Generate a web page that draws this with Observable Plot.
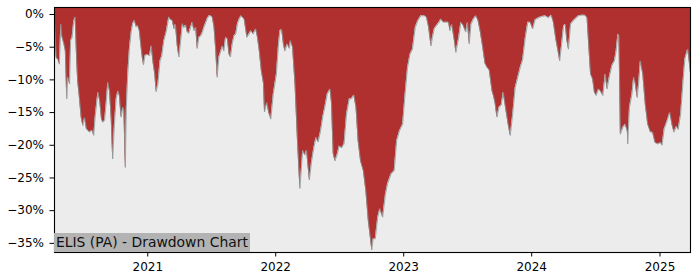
<!DOCTYPE html>
<html><head><meta charset="utf-8">
<script src="https://cdn.jsdelivr.net/npm/d3@7"></script>
<script src="https://cdn.jsdelivr.net/npm/@observablehq/plot@0.6"></script>
<style>
body{margin:0;background:#fff;}
#wrap{position:relative;width:700px;height:280px;overflow:hidden;}
#wrap svg text{font-family:"DejaVu Sans";}
#label{position:absolute;left:54px;top:233px;height:19px;width:196px;background:#b3b3b3;font-family:"DejaVu Sans";font-size:13.9px;line-height:19px;padding-left:2px;box-sizing:border-box;color:#111;white-space:nowrap;}
</style></head><body><div id="wrap"></div>
<script>
const title = "ELIS (PA) - Drawdown Chart";
const dates = [
"2020-04-10","2020-04-15","2020-04-20","2020-04-24","2020-04-28","2020-05-01","2020-05-07","2020-05-11","2020-05-15","2020-05-18",
"2020-05-23","2020-05-26","2020-05-30","2020-06-04","2020-06-08","2020-06-12","2020-06-15","2020-06-20","2020-06-25","2020-06-30",
"2020-07-05","2020-07-10","2020-07-14","2020-07-19","2020-07-26","2020-07-31","2020-08-04","2020-08-09","2020-08-12","2020-08-17",
"2020-08-22","2020-08-26","2020-08-31","2020-09-05","2020-09-09","2020-09-14","2020-09-19","2020-09-23","2020-09-28","2020-10-03",
"2020-10-08","2020-10-12","2020-10-17","2020-10-22","2020-10-25","2020-10-29","2020-11-01","2020-11-05","2020-11-10","2020-11-15",
"2020-11-19","2020-11-24","2020-11-29","2020-12-03","2020-12-08","2020-12-13","2020-12-17","2020-12-20","2020-12-24","2020-12-30",
"2021-01-06","2021-01-11","2021-01-16","2021-01-21","2021-01-25","2021-01-30","2021-02-05","2021-02-10","2021-02-16","2021-02-23",
"2021-03-02","2021-03-07","2021-03-12","2021-03-17","2021-03-21","2021-03-26","2021-03-31","2021-04-05","2021-04-10","2021-04-14",
"2021-04-19","2021-04-24","2021-04-28","2021-05-03","2021-05-08","2021-05-13","2021-05-18","2021-05-22","2021-05-27","2021-06-01",
"2021-06-06","2021-06-10","2021-06-20","2021-06-25","2021-06-29","2021-07-04","2021-07-09","2021-07-14","2021-07-18","2021-07-23",
"2021-07-28","2021-08-02","2021-08-06","2021-08-11","2021-08-16","2021-08-21","2021-08-25","2021-08-30","2021-09-04","2021-09-09",
"2021-09-14","2021-09-18","2021-09-24","2021-10-03","2021-10-11","2021-10-17","2021-10-22","2021-10-29","2021-11-05","2021-11-10",
"2021-11-15","2021-11-21","2021-11-27","2021-11-30","2021-12-07","2021-12-12","2021-12-18","2021-12-25","2022-01-03","2022-01-09",
"2022-01-13","2022-01-18","2022-01-23","2022-01-27","2022-02-03","2022-02-09","2022-02-12","2022-02-18","2022-02-25","2022-03-04",
"2022-03-11","2022-03-19","2022-03-25","2022-03-30","2022-04-07","2022-04-13","2022-04-20","2022-04-26","2022-05-02","2022-05-09",
"2022-05-15","2022-05-21","2022-05-28","2022-06-05","2022-06-09","2022-06-14","2022-06-19","2022-06-26","2022-07-01","2022-07-08",
"2022-07-15","2022-07-22","2022-07-30","2022-08-05","2022-08-12","2022-08-18","2022-08-24","2022-08-31","2022-09-08","2022-09-15",
"2022-09-22","2022-09-29","2022-10-02","2022-10-06","2022-10-12","2022-10-19","2022-10-25","2022-11-02","2022-11-10","2022-11-16",
"2022-11-26","2022-12-05","2022-12-12","2022-12-20","2022-12-29","2023-01-05","2023-01-12","2023-01-19","2023-01-26","2023-02-03",
"2023-02-10","2023-02-19","2023-03-01","2023-03-07","2023-03-13","2023-03-20","2023-03-24","2023-03-29","2023-04-05","2023-04-12",
"2023-04-17","2023-04-24","2023-05-01","2023-05-09","2023-05-13","2023-05-18","2023-05-25","2023-05-30","2023-06-07","2023-06-13",
"2023-06-20","2023-06-27","2023-07-02","2023-07-07","2023-07-12","2023-07-19","2023-07-26","2023-08-01","2023-08-07","2023-08-13",
"2023-08-21","2023-08-27","2023-09-02","2023-09-10","2023-09-15","2023-09-19","2023-09-24","2023-09-30","2023-10-06","2023-10-12",
"2023-10-19","2023-10-26","2023-11-01","2023-11-08","2023-11-15","2023-11-23","2023-11-30","2023-12-06","2023-12-14","2023-12-21",
"2023-12-28","2024-01-04","2024-01-11","2024-01-21","2024-01-30","2024-02-09","2024-02-18","2024-02-26","2024-03-03","2024-03-10",
"2024-03-16","2024-03-21","2024-03-26","2024-04-01","2024-04-06","2024-04-10","2024-04-15","2024-04-21","2024-04-28","2024-05-04",
"2024-05-14","2024-05-23","2024-06-01","2024-06-07","2024-06-11","2024-06-17","2024-06-23","2024-06-28","2024-07-03","2024-07-10",
"2024-07-15","2024-07-22","2024-07-29","2024-08-03","2024-08-10","2024-08-17","2024-08-24","2024-08-29","2024-09-03","2024-09-06",
"2024-09-10","2024-09-17","2024-09-24","2024-09-30","2024-10-01","2024-10-06","2024-10-13","2024-10-18","2024-10-22","2024-10-28",
"2024-11-01","2024-11-06","2024-11-13","2024-11-20","2024-11-27","2024-12-05","2024-12-11","2024-12-18","2024-12-26","2025-01-03",
"2025-01-07","2025-01-13","2025-01-20","2025-01-29","2025-02-05","2025-02-10","2025-02-17","2025-02-22","2025-03-01","2025-03-08",
"2025-03-13","2025-03-21","2025-03-24","2025-03-29"
];
const drawdown = [
-1.0,-6.6,-6.9,-7.6,-1.5,-3.3,-4.5,-5.6,-12.9,-9.6,
-10.6,-4.0,-3.6,-1.0,-0.4,-6.6,-10.1,-12.7,-15.7,-17.0,
-15.8,-17.5,-17.7,-18.0,-17.7,-18.5,-15.7,-13.2,-11.9,-13.2,
-16.0,-16.5,-16.2,-13.2,-10.4,-11.7,-16.2,-22.1,-16.7,-12.9,
-11.7,-12.4,-15.7,-14.2,-14.7,-23.4,-14.2,-9.1,-5.0,-2.6,
-1.4,-0.9,-1.9,-1.7,-2.5,-5.0,-6.8,-7.7,-6.3,-6.1,
-6.3,-4.8,-7.3,-9.1,-11.8,-10.6,-7.1,-6.3,-4.0,-2.6,
-0.4,-0.8,-0.9,-2.2,-1.5,-4.7,-6.5,-4.0,-1.4,-2.0,
-1.6,-2.7,-2.9,-2.0,-1.2,-2.5,-2.0,-5.2,-3.5,-3.3,
-2.7,-2.0,-0.6,-0.2,-0.2,-0.4,-1.9,-5.5,-9.6,-6.5,
-5.7,-4.8,-5.6,-3.5,-3.7,-6.1,-6.5,-4.5,-3.3,-3.0,
-1.4,-0.8,-0.2,-0.7,-3.5,-3.0,-2.5,-3.0,-2.2,-3.5,
-5.5,-8.6,-10.5,-14.9,-13.5,-15.0,-16.0,-12.2,-9.1,-4.5,
-2.5,-2.3,-4.5,-5.6,-4.5,-5.2,-4.0,-5.0,-10.6,-19.3,
-26.6,-20.8,-21.5,-20.8,-25.3,-22.6,-20.3,-18.8,-19.5,-17.8,
-15.7,-14.2,-12.2,-11.4,-13.5,-21.3,-22.4,-21.3,-20.1,-20.4,
-19.8,-15.2,-12.9,-12.9,-12.3,-14.2,-19.3,-22.4,-23.9,-26.9,
-31.5,-34.6,-36.0,-34.3,-34.3,-31.0,-29.7,-31.0,-27.5,-25.9,
-24.4,-23.9,-19.3,-17.8,-16.8,-12.2,-8.1,-6.1,-5.3,-2.0,
-1.0,-0.2,-0.2,-0.4,-1.9,-4.8,-3.5,-2.2,-1.7,-1.2,
-0.7,-1.2,-1.2,-1.2,-2.5,-1.5,-3.8,-5.8,-3.5,-1.2,
-1.7,-2.7,-1.2,-4.5,-1.5,-0.7,-0.2,-0.9,-2.5,-4.5,
-7.5,-8.1,-8.5,-11.7,-12.6,-13.7,-15.7,-14.2,-13.9,-11.9,
-14.4,-16.8,-18.5,-15.2,-11.2,-9.5,-8.0,-7.0,-3.5,-1.2,
-1.2,-2.2,-0.8,-0.5,-0.3,-0.2,-0.5,-0.1,-1.2,-3.8,
-5.5,-7.1,-4.8,-1.8,-1.5,-3.8,-5.3,-1.5,-1.0,-0.7,
-0.2,-0.1,-0.1,-0.5,-4.0,-9.1,-9.9,-11.9,-12.4,-11.4,
-11.7,-12.4,-9.1,-11.4,-9.4,-7.8,-7.1,-5.6,-3.0,-3.2,
-18.3,-17.3,-16.8,-17.9,-19.8,-14.2,-12.2,-9.6,-10.4,-12.7,
-10.6,-7.1,-9.1,-13.7,-16.8,-18.0,-18.0,-19.6,-19.8,-19.6,
-20.0,-17.5,-16.5,-15.0,-17.0,-18.0,-17.1,-17.6,-15.2,-10.1,
-6.8,-5.3,-6.5,-9.0
];
const yTicks = [0, -5, -10, -15, -20, -25, -30, -35];
const xTickDates = ["2021-01-01", "2022-01-01", "2023-01-01", "2024-01-01", "2025-01-01"];
const yDomain = [-36.4, 1.07];

const parse = d3.utcParse("%Y-%m-%d");
const data = dates.map((d, i) => ({date: parse(d), dd: drawdown[i]}));
const xTicks = xTickDates.map(parse);

const fmtPct = v => (v === 0 ? "0" : "\u2212" + Math.abs(v)) + "%";

const chart = Plot.plot({
  width: 700,
  height: 280,
  marginLeft: 54,
  marginRight: 10,
  marginTop: 7,
  marginBottom: 28,
  style: {fontFamily: "DejaVu Sans", fontSize: "12px", color: "#000", background: "#fff"},
  x: {type: "utc", domain: [data[0].date, data[data.length - 1].date]},
  y: {domain: yDomain},
  marks: [
    Plot.frame({fill: "#ececec"}),
    Plot.areaY(data, {x: "date", y1: yDomain[1], y2: "dd", fill: "#b03030"}),
    Plot.line(data, {x: "date", y: "dd", stroke: "#8c9696", strokeWidth: 0.8}),
    Plot.axisY({ticks: yTicks, tickFormat: fmtPct, tickSize: 4.5, tickPadding: 6, label: null, fontSize: 12, fontFamily: "DejaVu Sans"}),
    Plot.axisX({ticks: xTicks, tickFormat: d3.utcFormat("%Y"), tickSize: 4.5, tickPadding: 5.5, label: null, fontSize: 12, fontFamily: "DejaVu Sans"}),
    Plot.frame({stroke: "#000", strokeWidth: 1.1})
  ]
});
const wrap = document.getElementById("wrap");
wrap.appendChild(chart);
const lab = document.createElement("div");
lab.id = "label";
lab.textContent = title;
wrap.appendChild(lab);
</script>
</body></html>
